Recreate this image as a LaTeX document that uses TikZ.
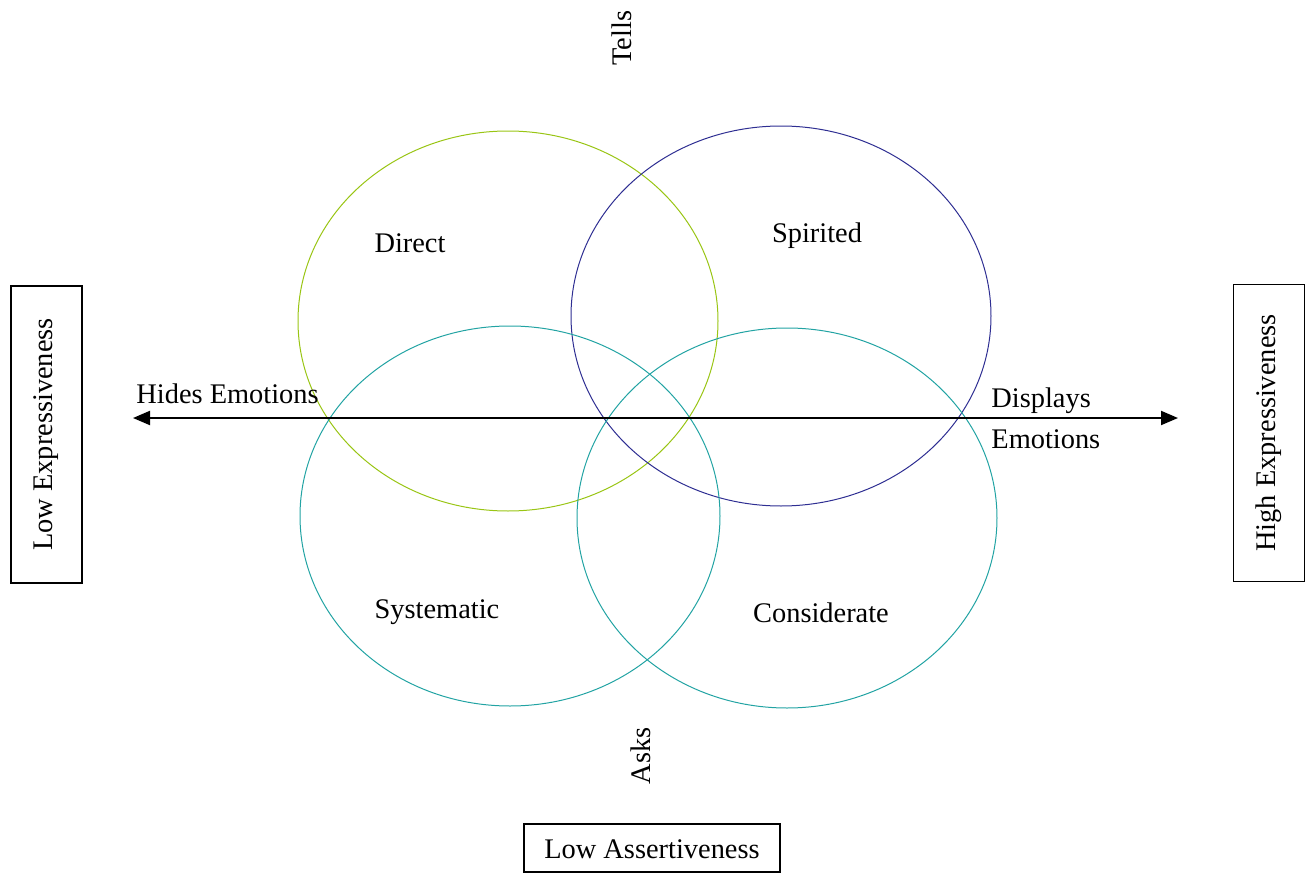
\documentclass[tikz,border=0pt]{standalone}
\usepackage{fontspec}
\setmainfont{Liberation Serif}
\usetikzlibrary{arrows.meta}
\definecolor{lime}{HTML}{99C514}
\definecolor{navy}{HTML}{2E2E92}
\definecolor{teal}{HTML}{22A3A3}
\tikzset{
  word/.style = {font = \fontsize{14.2}{17}\selectfont, inner sep = 0pt},
  sidebox/.style = {word, draw, line width = .75pt, rotate = 90, minimum width = 148.5pt, minimum height = 35.5pt},
  ring/.style = {line width = .5pt}
}
\begin{document}
\begin{tikzpicture}[x = .5pt, y = -.5pt]
\useasboundingbox (0,0) rectangle (1314,873);
\draw[ring, draw = lime] (508,321) ellipse (210 and 190);
\draw[ring, draw = navy] (781,316) ellipse (210 and 190);
\draw[ring, draw = teal] (510,516) ellipse (210 and 190);
\draw[ring, draw = teal] (787,518) ellipse (210 and 190);
\coordinate (hides) at (133,418);
\coordinate (displays) at (1178,418);
\draw[line width = 1pt, {Triangle[length = 8.5pt, width = 7pt]}-{Triangle[length = 8.5pt, width = 7pt]}] (hides) -- (displays);
\node[word] (direct) at (410,243) {Direct};
\node[word] (spirited) at (817,236) {Spirited};
\node[word] (systematic) at (437,612) {Systematic};
\node[word] (considerate) at (821,613) {Considerate};
\node[word, anchor = west] (hidesemo) at (136,394) {Hides Emotions};
\node[word, anchor = west] (disp) at (991,401) {Displays};
\node[word, anchor = west] (dispemo) at (991,439) {Emotions};
\node[word, rotate = 90] (tells) at (622,38) {Tells};
\node[word, rotate = 90] (asks) at (641,756) {Asks};
\node[sidebox] (lowexp) at (46.5,434.5) {Low Expressiveness};
\node[sidebox] (highexp) at (1269,433) {High Expressiveness};
\node[word, draw, line width = .75pt, minimum width = 128pt, minimum height = 24pt, text height = 11pt, text depth = 1pt] (lowass) at (652,848) {Low Assertiveness};
\end{tikzpicture}
\end{document}
